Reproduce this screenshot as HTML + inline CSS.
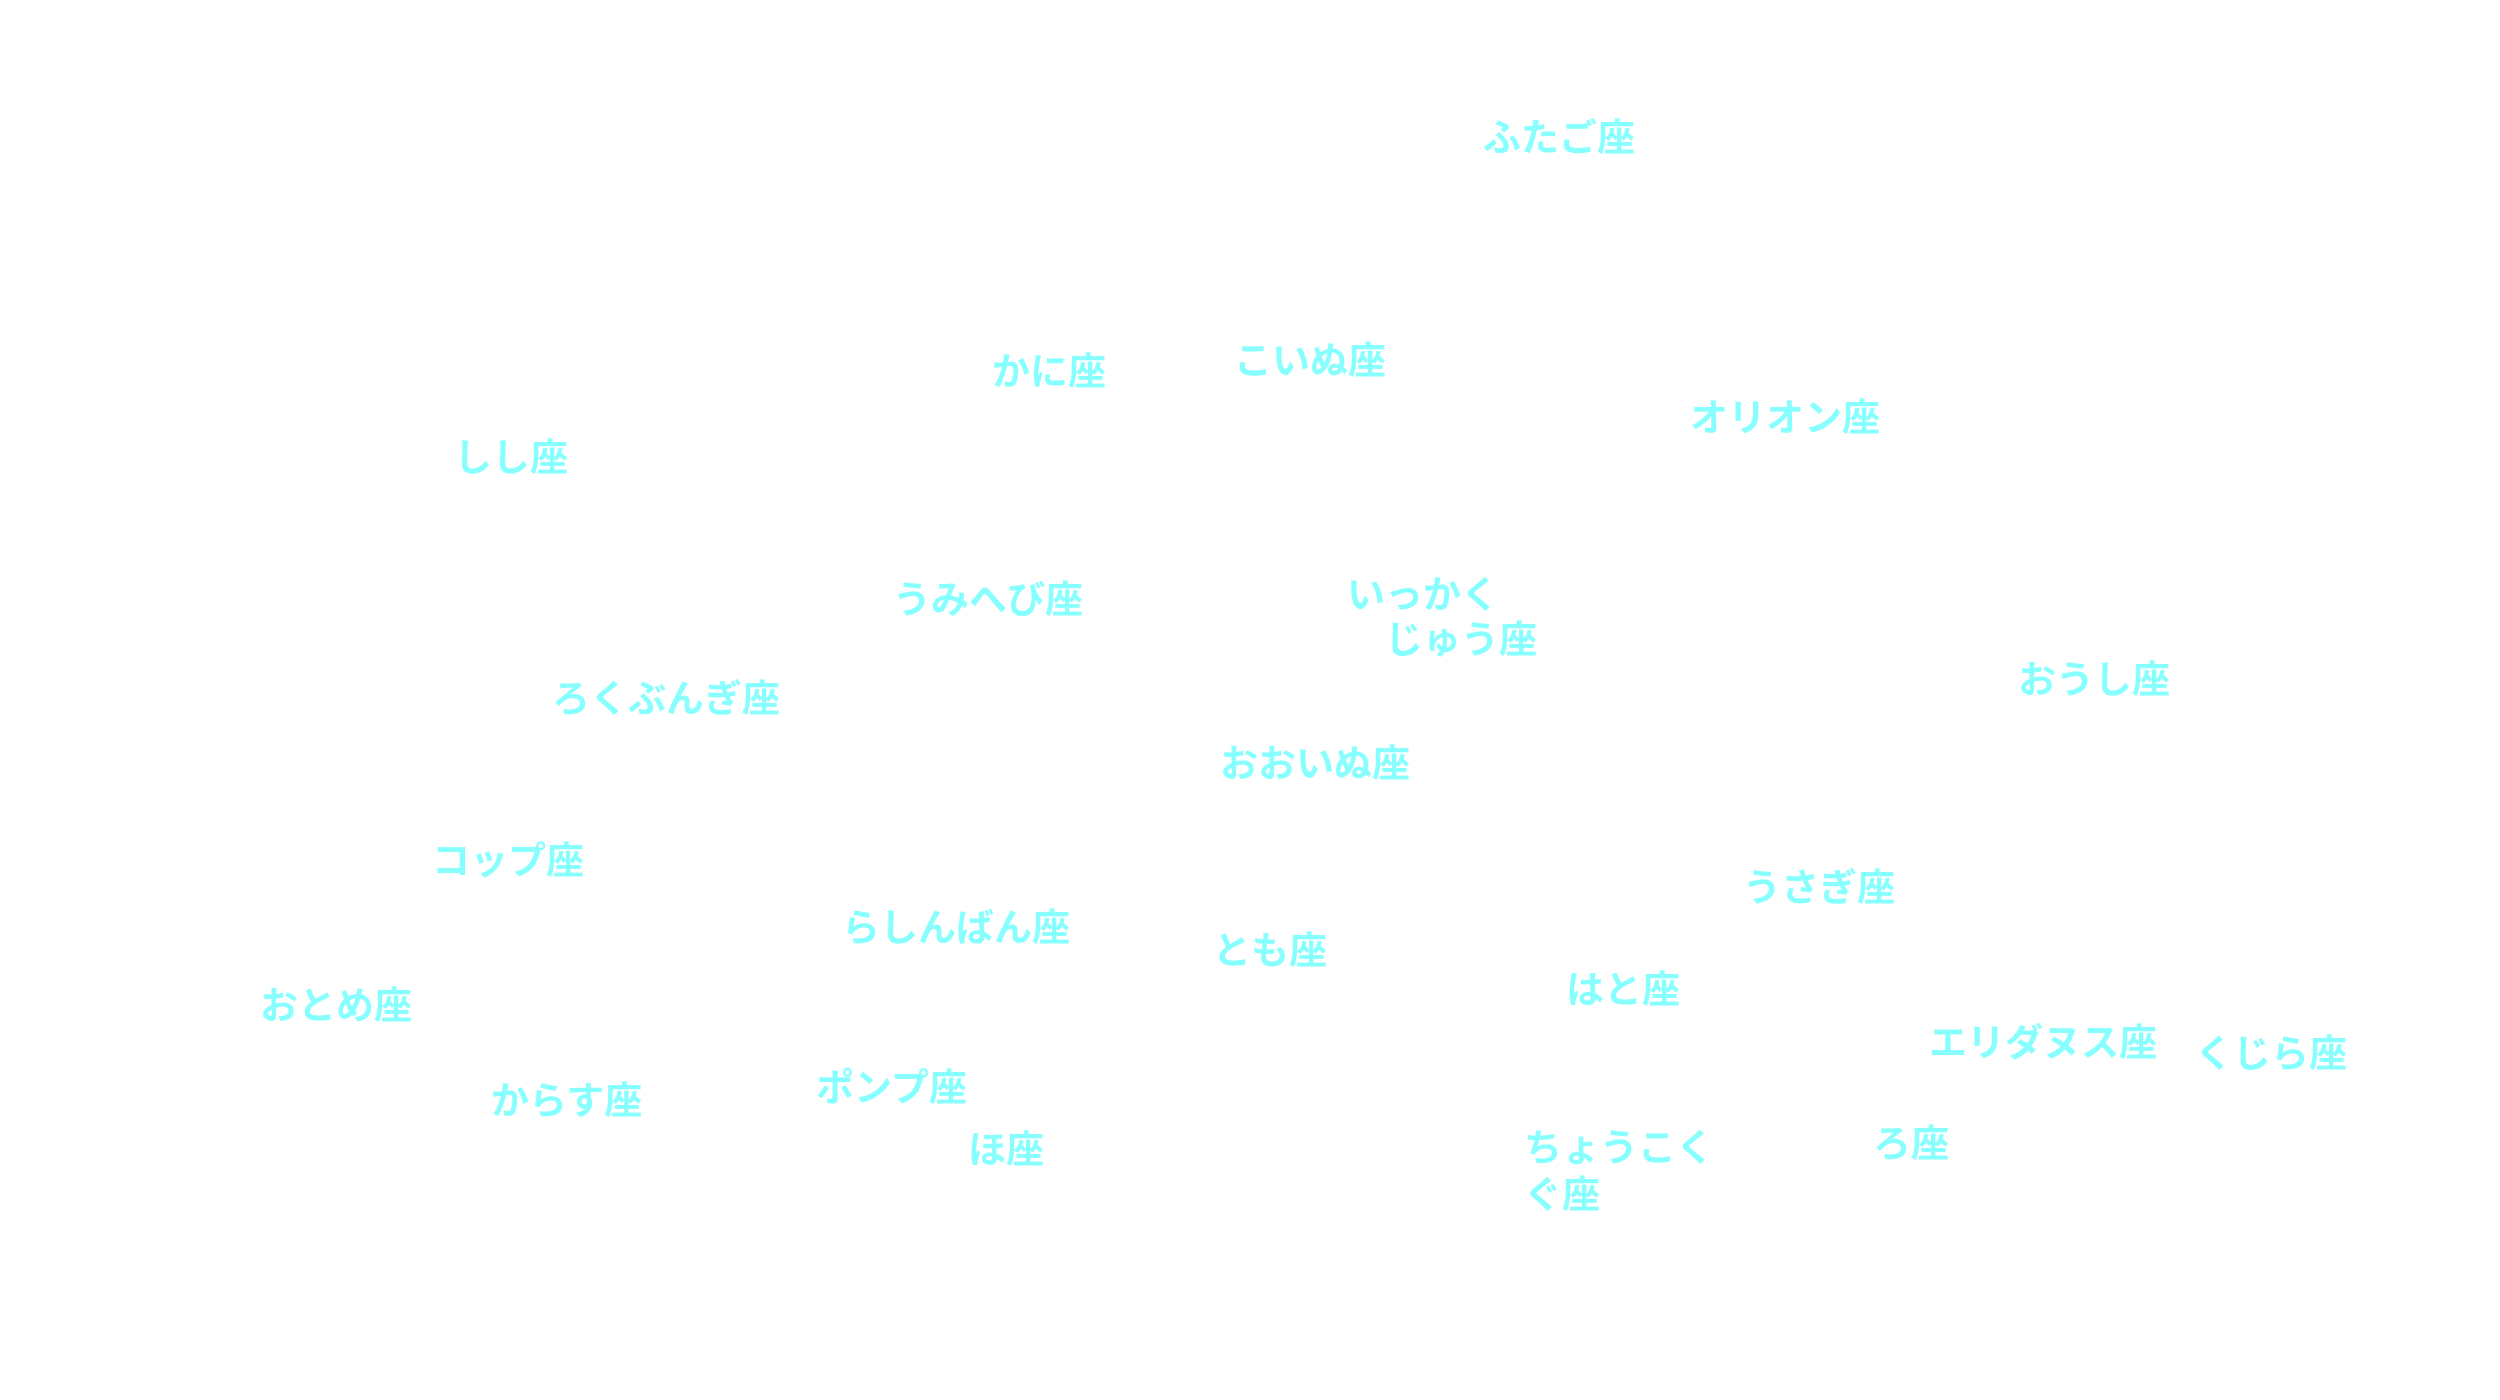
<!DOCTYPE html>
<html><head><meta charset="utf-8"><style>
html,body{margin:0;padding:0;background:#fff;}
body{width:2500px;height:1400px;position:relative;overflow:hidden;}
.l{position:absolute;white-space:nowrap;font-family:"Liberation Sans","Noto Sans CJK JP",sans-serif;font-size:38px;font-weight:bold;line-height:45px;color:#88ffff;margin-top:2px;}
</style></head><body>
<div class="l" style="left:1483px;top:115px">ふたご座</div>
<div class="l" style="left:992px;top:349px">かに座</div>
<div class="l" style="left:1234px;top:338px">こいぬ座</div>
<div class="l" style="left:1690px;top:395px">オリオン座</div>
<div class="l" style="left:454px;top:435px">しし座</div>
<div class="l" style="left:893px;top:577px">うみへび座</div>
<div class="l" style="left:1347px;top:572px">いっかく</div>
<div class="l" style="left:1385px;top:617px">じゅう座</div>
<div class="l" style="left:2018px;top:657px">おうし座</div>
<div class="l" style="left:552px;top:676px">ろくぶんぎ座</div>
<div class="l" style="left:1220px;top:741px">おおいぬ座</div>
<div class="l" style="left:432px;top:838px">コップ座</div>
<div class="l" style="left:1743px;top:865px">うさぎ座</div>
<div class="l" style="left:842px;top:905px">らしんばん座</div>
<div class="l" style="left:1213px;top:928px">とも座</div>
<div class="l" style="left:1566px;top:967px">はと座</div>
<div class="l" style="left:260px;top:983px">おとめ座</div>
<div class="l" style="left:1929px;top:1020px">エリダヌス座</div>
<div class="l" style="left:2195px;top:1031px">くじら座</div>
<div class="l" style="left:816px;top:1065px">ポンプ座</div>
<div class="l" style="left:491px;top:1078px">からす座</div>
<div class="l" style="left:968px;top:1127px">ほ座</div>
<div class="l" style="left:1524px;top:1125px">ちょうこく</div>
<div class="l" style="left:1524px;top:1172px">ぐ座</div>
<div class="l" style="left:1873px;top:1121px">ろ座</div>
</body></html>
